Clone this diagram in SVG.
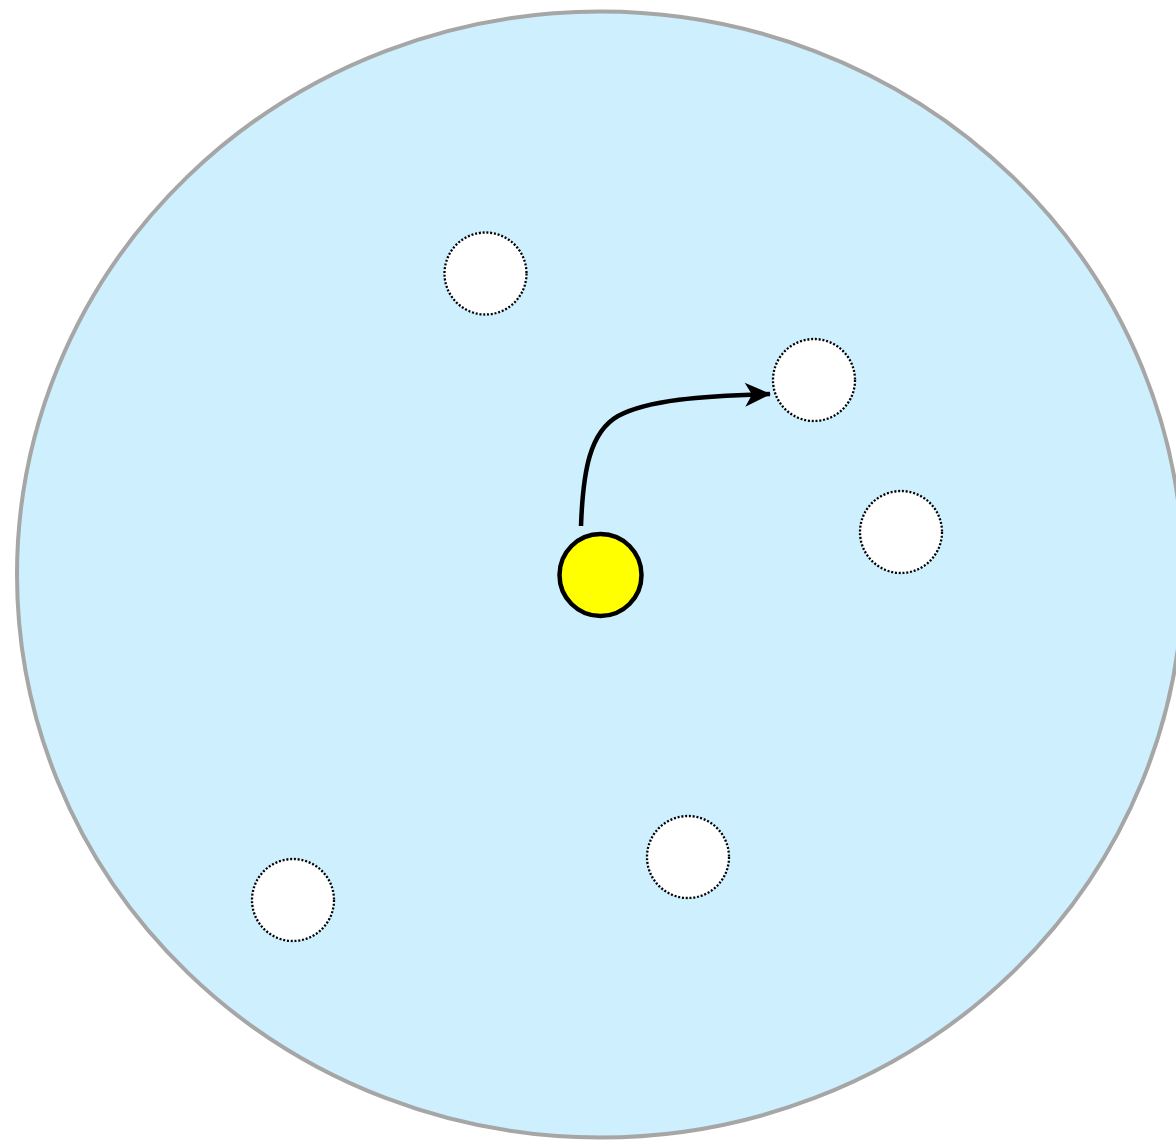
<svg xmlns="http://www.w3.org/2000/svg" width="1176" height="1140" viewBox="0 0 1176 1140">
<style>
.site{fill:#ffffff;stroke:#000000;stroke-width:2.3;stroke-dasharray:2 1.8}
.edge{fill:none;stroke:#000000;stroke-width:4.5}
</style>
<defs>
<marker id="arr" markerUnits="userSpaceOnUse" markerWidth="30" markerHeight="30" viewBox="0 0 30 30" refX="26" refY="15" orient="auto">
<path d="M1 3 L27 15 L1 27 L8 15 Z" fill="#000000"/>
</marker>
</defs>
<rect width="1176" height="1140" fill="#ffffff"/>
<g id="domain">
<ellipse cx="600" cy="574.5" rx="583" ry="563" fill="#cdeffe" stroke="#a6a6a6" stroke-width="4"/>
</g>
<g id="connectors">
<path class="edge" d="M581 526 C583 470 590 432 618 416 C648 400 700 396 770 394" marker-end="url(#arr)"/>
</g>
<g id="site1"><circle class="site" cx="485.5" cy="273.5" r="41"/></g>
<g id="site2"><circle class="site" cx="814" cy="380" r="41"/></g>
<g id="site3"><circle class="site" cx="901" cy="532" r="41"/></g>
<g id="site4"><circle class="site" cx="688" cy="857" r="41"/></g>
<g id="site5"><circle class="site" cx="293" cy="900" r="41"/></g>
<g id="particle"><circle cx="600.5" cy="575" r="41" fill="#ffff00" stroke="#000000" stroke-width="4.5"/></g>
</svg>
